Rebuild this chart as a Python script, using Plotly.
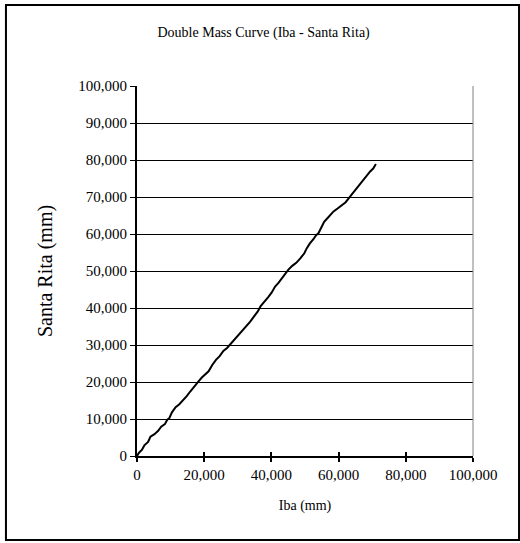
import plotly.graph_objects as go

# cumulative rainfall (mm)
iba_cum = [0, 600, 1500, 2200, 3300, 4000, 5200, 6300, 7200, 8300, 9000, 9600,
           10400, 11500, 12600, 13800, 14800, 15900, 17000, 18250, 19300, 20300,
           21300, 22400, 23500, 24600, 25700, 26800, 27900, 29000, 30200, 31400,
           32500, 33700, 34900, 35900, 36800, 37900, 39000, 40100, 41100, 42100,
           43100, 44100, 45000, 46200, 47400, 48600, 49800, 50500, 51400, 52500,
           53300, 54000, 54800, 55700, 56600, 57400, 58500, 59700, 60900, 62100,
           63400, 64500, 65500, 66500, 67500, 68500, 69400, 70300, 71100]
santa_rita_cum = [0, 900, 1700, 2900, 3800, 5200, 5900, 6800, 7900, 8600, 9800, 10200,
                  11800, 13200, 14000, 15100, 16200, 17500, 18600, 20100, 21200, 22100,
                  22900, 24600, 26000, 27000, 28400, 29200, 30300, 31700, 32900, 34000,
                  35200, 36300, 37800, 39000, 40500, 41600, 42900, 44200, 45800, 46800,
                  48000, 49400, 50300, 51400, 52200, 53400, 54800, 56100, 57400, 58600,
                  59700, 60200, 61900, 63300, 64200, 65100, 66100, 66900, 67800, 68600,
                  70100, 71400, 72600, 73500, 74900, 75900, 76900, 77700, 78900]

font = "Liberation Serif, Times New Roman, serif"

fig = go.Figure()
fig.add_trace(go.Scatter(
    x=iba_cum,
    y=santa_rita_cum,
    mode='lines',
    line=dict(color='black', width=2),
    showlegend=False,
    hoverinfo='x+y'
))
# dummy trace on overlay axis for the inside half of the crossing ticks
fig.add_trace(go.Scatter(x=[None], y=[None], xaxis='x2', showlegend=False))

fig.update_layout(
    width=520,
    height=543,
    margin=dict(l=137, r=47, t=86, b=87),
    paper_bgcolor='white',
    plot_bgcolor='white',
    font=dict(family=font, color='black'),
    title=dict(
        text="Double Mass Curve (Iba - Santa Rita)",
        x=0.507, xanchor='center', xref='container',
        y=0.941, yanchor='middle',
        font=dict(size=14, family=font)
    ),
    xaxis=dict(
        range=[0, 100000],
        tick0=0, dtick=20000,
        tickformat=',',
        ticks='outside', ticklen=4, tickwidth=2, tickcolor='black',
        showline=True, linecolor='black', linewidth=2,
        showgrid=False, zeroline=False,
        tickfont=dict(size=15, family=font),
        title=dict(text='Iba (mm)', font=dict(size=14, family=font), standoff=18),
        fixedrange=True
    ),
    xaxis2=dict(
        overlaying='x', matches='x', range=[0, 100000],
        tick0=0, dtick=20000,
        ticks='inside', ticklen=4, tickwidth=2, tickcolor='black',
        showticklabels=False, showgrid=False, zeroline=False, showline=False,
        side='bottom'
    ),
    yaxis=dict(
        range=[0, 100000],
        tick0=0, dtick=10000,
        tickformat=',',
        ticks='outside', ticklen=5, tickwidth=1, tickcolor='black',
        showline=True, linecolor='black', linewidth=2,
        showgrid=True, gridcolor='black', gridwidth=1,
        zeroline=False,
        tickfont=dict(size=15, family=font),
        title=dict(text='Santa Rita (mm)', font=dict(size=20, family=font), standoff=20),
        fixedrange=True
    ),
    shapes=[
        # right border of plot area
        dict(type='line', xref='paper', yref='paper', x0=1, x1=1, y0=0, y1=1,
             line=dict(color='#808080', width=1)),
        # outer chart frame
        dict(type='rect', xref='paper', yref='paper',
             x0=-0.39, x1=1.137, y0=-0.227, y1=1.219,
             line=dict(color='black', width=2), layer='above'),
    ],
)
fig.write_html("out.html", config={'displayModeBar': False},
               post_script="document.body.style.margin='0';")
